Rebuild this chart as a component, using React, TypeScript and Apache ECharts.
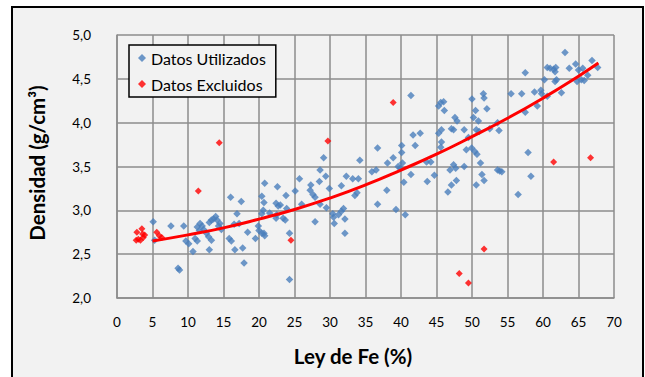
import React, { useEffect, useRef } from "react";
import * as echarts from "echarts";

// Fe grade (%) vs. density (g/cm³) — samples kept in the fit
const usedPoints: [number, number][] = [
  [5.1, 2.87], [5.3, 2.66], [7.6, 2.82], [8.6, 2.34], [8.8, 2.32], [9.4, 2.82], [9.7, 2.65], [10.1, 2.62],
  [10.7, 2.53], [11.0, 2.68], [11.3, 2.65], [11.3, 2.81], [11.7, 2.85], [11.6, 2.77], [12.0, 2.82], [12.2, 2.78],
  [12.6, 2.74], [12.9, 2.70], [13.0, 2.55], [13.3, 2.66], [13.0, 2.86], [13.3, 2.89], [13.6, 2.90], [13.9, 2.93],
  [14.1, 2.89], [14.3, 2.82], [14.5, 2.85], [14.7, 2.78],
  [15.8, 2.68], [16.1, 2.65], [16.0, 3.15], [16.6, 2.55], [16.5, 2.84], [16.9, 2.96], [17.5, 3.10], [17.2, 2.85],
  [17.7, 2.57], [17.9, 2.40], [18.4, 2.75], [19.5, 2.68], [19.9, 2.82], [20.0, 2.77],
  [20.4, 2.74], [20.4, 3.16], [20.8, 3.31], [20.7, 3.09], [20.4, 2.96], [20.6, 3.0], [20.7, 2.74], [20.8, 2.71],
  [21.5, 2.97], [22.4, 3.08], [22.7, 3.05], [22.5, 2.95], [22.6, 3.27], [23.0, 3.06], [23.8, 3.17], [23.4, 2.91],
  [23.9, 3.02], [22.4, 2.91], [23.7, 2.89], [24.3, 2.74], [24.3, 2.21],
  [25.1, 3.22], [25.7, 3.36], [26.0, 3.07], [27.3, 3.29], [27.2, 3.23], [27.6, 3.18], [27.9, 3.15], [28.6, 3.46],
  [28.5, 3.33], [29.1, 3.60], [29.4, 3.39], [29.9, 3.25], [28.6, 3.07], [27.9, 2.87], [29.5, 3.03],
  [30.4, 2.96], [30.5, 2.92], [30.6, 2.85], [31.2, 2.95], [31.6, 2.99], [31.9, 3.02], [32.1, 2.90], [32.1, 2.74],
  [31.6, 3.28], [32.3, 3.39], [33.2, 3.36], [34.0, 3.36], [33.5, 3.17], [33.8, 3.20], [34.2, 3.57],
  [35.9, 3.44], [36.5, 3.46], [36.7, 3.71], [36.7, 3.07], [38.0, 3.23], [38.1, 3.54], [38.9, 3.60], [39.3, 3.01],
  [39.6, 3.50], [40.1, 3.74], [40.1, 3.66], [40.2, 3.54], [39.9, 3.48],
  [40.4, 3.32], [40.6, 2.95], [41.4, 3.41], [41.4, 4.31], [41.7, 3.86], [42.0, 3.74], [42.7, 3.88], [43.6, 3.55],
  [44.2, 3.55], [43.7, 3.33], [44.7, 3.40],
  [45.3, 4.19], [45.6, 4.23], [46.0, 4.24], [46.1, 4.14], [45.3, 3.88], [45.7, 3.92], [45.7, 3.78], [45.6, 3.72],
  [46.6, 3.21], [47.1, 3.29], [47.8, 3.34], [46.9, 3.46], [47.4, 3.52], [47.7, 3.48], [48.9, 3.50], [47.6, 4.06],
  [47.9, 4.02], [47.1, 3.93], [47.4, 3.92], [48.9, 3.92], [49.2, 3.69], [49.5, 3.83],
  [50.0, 4.27], [50.2, 4.06], [50.5, 4.14], [50.9, 4.02], [50.6, 3.92], [51.0, 3.90], [51.6, 4.33], [51.7, 4.28],
  [52.1, 4.16], [52.5, 3.93], [53.8, 3.91], [53.6, 4.00], [49.96, 3.71], [50.4, 3.67], [50.7, 3.64], [51.2, 3.54],
  [50.6, 3.29], [51.4, 3.41], [51.7, 3.34], [53.6, 3.46], [53.9, 3.45], [54.2, 3.44],
  [55.5, 4.33], [56.5, 3.18], [57.0, 4.33], [57.5, 4.12], [57.5, 4.57], [57.9, 3.66], [58.3, 3.39], [58.8, 4.35],
  [59.2, 4.19], [59.7, 4.37], [59.8, 4.33],
  [60.2, 4.49], [60.6, 4.30], [60.6, 4.63], [61.0, 4.62], [61.5, 4.61], [61.7, 4.58], [61.8, 4.63], [61.7, 4.47],
  [61.9, 4.49], [62.6, 4.34], [63.1, 4.80], [63.7, 4.62], [64.6, 4.67], [64.8, 4.47], [65.0, 4.60], [65.4, 4.49],
  [65.6, 4.62], [65.8, 4.48], [66.3, 4.54], [66.9, 4.71], [67.7, 4.63],
];

// Samples left out of the fit
const excludedPoints: [number, number][] = [
  [2.8, 2.75], [3.5, 2.79], [3.6, 2.73], [3.7, 2.69], [3.0, 2.67], [3.3, 2.66], [3.9, 2.72], [2.7, 2.66],
  [5.6, 2.75], [5.96, 2.71], [6.3, 2.69], [11.45, 3.22], [14.4, 3.77], [24.5, 2.66], [29.7, 3.79], [38.9, 4.23],
  [48.2, 2.28], [49.5, 2.17], [51.7, 2.56], [61.5, 3.55], [66.7, 3.60],
];

// Trend curve through the used samples
const trendPoints: [number, number][] = [
  [5, 2.65], [10, 2.72], [15, 2.80], [20, 2.90], [25, 3.01], [30, 3.14], [35, 3.29],
  [40, 3.46], [45, 3.64], [50, 3.84], [55, 4.05], [60, 4.28], [65, 4.53], [67.8, 4.68],
];

const xRange = [0, 70];
const xStep = 5;
const yRange = [2, 5];
const yStep = 0.5;

const seriesNames = ["Datos Utilizados", "Datos Excluidos"];
const xTitle = "Ley de Fe (%)";
const yTitle = "Densidad (g/cm³)";

const FONT = "Lato, 'Open Sans', sans-serif";
const GRID_COLOR = "#8c8c8c";

export default function App() {
  const ref = useRef<HTMLDivElement>(null);

  useEffect(() => {
    if (!ref.current) return;
    const chart = echarts.init(ref.current, null, { renderer: "svg" });
    chart.setOption({
      animation: false,
      backgroundColor: "transparent",
      grid: { left: 117, right: 31, top: 35, bottom: 79, containLabel: false },
      xAxis: {
        type: "value",
        min: xRange[0],
        max: xRange[1],
        interval: xStep,
        axisLine: { show: true, lineStyle: { color: GRID_COLOR, width: 1.5 } },
        axisTick: { show: false },
        splitLine: { show: true, lineStyle: { color: GRID_COLOR, width: 1.5 } },
        axisLabel: { margin: 17, color: "#000", fontFamily: FONT, fontSize: 13.5 },
      },
      yAxis: {
        type: "value",
        min: yRange[0],
        max: yRange[1],
        interval: yStep,
        axisLine: { show: true, lineStyle: { color: GRID_COLOR, width: 1.5 } },
        axisTick: { show: false },
        splitLine: { show: true, lineStyle: { color: GRID_COLOR, width: 1.5 } },
        axisLabel: {
          margin: 26,
          color: "#000",
          fontFamily: FONT,
          fontSize: 13.5,
          formatter: (v: number) => v.toFixed(1).replace(".", ","),
        },
      },
      legend: {
        data: seriesNames,
        orient: "vertical",
        left: 129,
        top: 45,
        padding: [4, 10, 4, 9],
        itemGap: 8,
        itemWidth: 8,
        itemHeight: 8,
        icon: "diamond",
        borderColor: "#000",
        borderWidth: 1.5,
        backgroundColor: "#f2f2f2",
        textStyle: { fontFamily: FONT, fontSize: 16, lineHeight: 18, color: "#000" },
      },
      graphic: [
        {
          type: "text",
          x: 353,
          y: 356,
          style: {
            text: xTitle,
            align: "center",
            verticalAlign: "middle",
            font: `bold 20.5px ${FONT}`,
            fill: "#000",
          },
        },
        {
          type: "text",
          x: 37,
          y: 163,
          rotation: Math.PI / 2,
          style: {
            text: yTitle,
            align: "center",
            verticalAlign: "middle",
            font: `bold 20.5px ${FONT}`,
            fill: "#000",
          },
        },
      ],
      series: [
        {
          name: seriesNames[0],
          type: "scatter",
          symbol: "diamond",
          symbolSize: 7.5,
          itemStyle: { color: "#4a7ebb" },
          data: usedPoints,
          z: 2,
        },
        {
          name: seriesNames[1],
          type: "scatter",
          symbol: "diamond",
          symbolSize: 7,
          itemStyle: { color: "#ff0000" },
          data: excludedPoints,
          z: 3,
        },
        {
          name: "Tendencia",
          type: "line",
          smooth: true,
          showSymbol: false,
          lineStyle: { color: "#ff0000", width: 3 },
          data: trendPoints,
          z: 4,
        },
      ],
    });
    return () => chart.dispose();
  }, []);

  return (
    <div
      style={{
        position: "fixed",
        left: 0,
        top: 0,
        width: 645,
        height: 377,
        background: "#fff",
        overflow: "hidden",
      }}
    >
      <div
        style={{
          position: "absolute",
          left: 11,
          top: 6,
          width: 633,
          height: 400,
          boxSizing: "border-box",
          border: "2px solid #000",
          background: "#f2f2f2",
        }}
      />
      <div ref={ref} style={{ position: "absolute", left: 0, top: 0, width: 645, height: 377 }} />
    </div>
  );
}
